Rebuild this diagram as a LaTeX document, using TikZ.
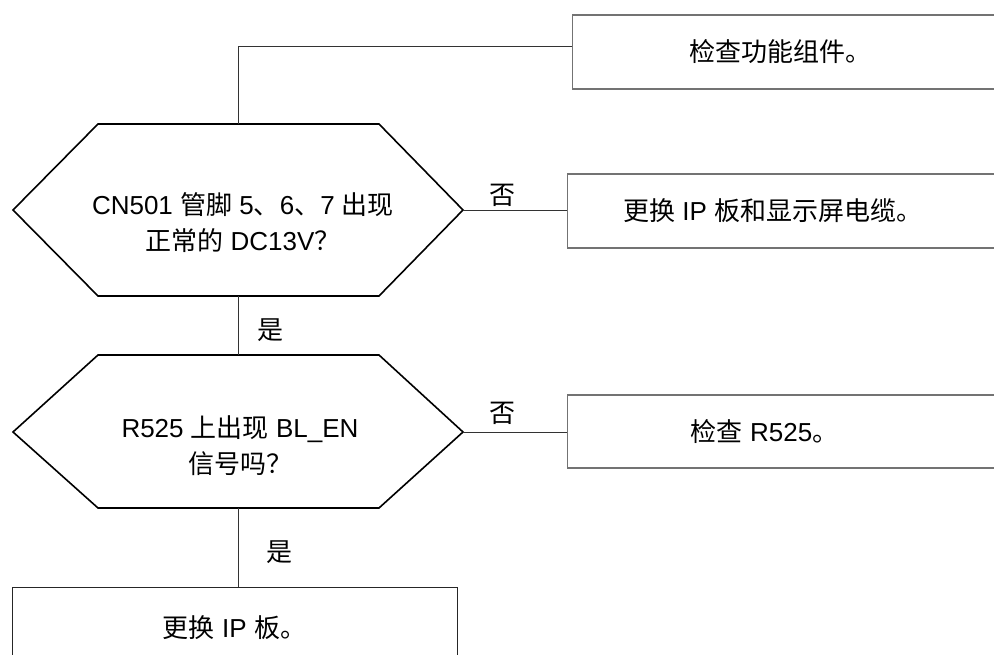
\documentclass[tikz,border=0pt]{standalone}
\usepackage{fontspec}
\setmainfont{Liberation Sans}
\newfontfamily\cjk{Noto Sans CJK SC}
\newcommand\zh[1]{{\cjk #1}}
\usepackage{tikz}

\begin{document}
\begin{tikzpicture}[x=1pt,y=-1pt,
  hexline/.style={line width=1.6pt,line join=miter},
  conn/.style={line width=0.9pt,draw=black!80},
  rbox/.style={draw=black!55,line width=1.2pt,minimum width=440pt,minimum height=74pt,anchor=west,font=\fontsize{26}{36}\selectfont},
  txt/.style={align=center,font=\fontsize{26}{36}\selectfont}]
\useasboundingbox (0,0) rectangle (994,655);
\clip (0,0) rectangle (994,655);
% decisions
\draw [hexline] (13,210) -- (98,124) -- (238,124) coordinate (h1n) -- (379,124) -- (463,210) coordinate (h1e)
  -- (379,296) -- (238,296) coordinate (h1s) -- (98,296) -- cycle;
\node [txt] (q1) at (243,223) {CN501 \zh{管脚} 5\zh{、}6\zh{、}7 \zh{出现}\\\zh{正常的} DC13V\zh{？}};
\draw [hexline] (13,432) -- (98,355) -- (238,355) coordinate (h2n) -- (379,355) -- (463,432) coordinate (h2e)
  -- (379,508) -- (238,508) coordinate (h2s) -- (98,508) -- cycle;
\node [txt] (q2) at (240,446) {R525 \zh{上出现} BL\_EN\\\zh{信号吗？}};
% actions
\node [rbox] (b1) at (572,52) {\zh{检查功能组件。}\kern24pt};
\node [rbox] (b2) at (567,211) {\zh{更换} IP \zh{板和显示屏电缆。}\kern30pt};
\node [rbox,minimum height=73pt] (b3) at (567,431.5) {\zh{检查} R525\zh{。}\kern46pt};
\node [txt,draw=black!85,line width=1pt,minimum width=445pt,minimum height=80pt,anchor=north] (b4) at (234.5,587) {\zh{更换} IP \zh{板。}};
% connectors
\draw [conn] (h1n) |- ([yshift=6pt]b1.west);
\draw [conn] (h1e) -- (h1e -| b2.west);
\draw [conn] (h1s) -- (h2n);
\draw [conn] (h2e) -- (h2e -| b3.west);
\draw [conn] (h2s) -- (h2s |- b4.north);
\node [txt] (no1) at (502,195) {\zh{否}};
\node [txt] (no2) at (502,413) {\zh{否}};
\node [txt] (yes1) at (270,330) {\zh{是}};
\node [txt] (yes2) at (279,552) {\zh{是}};
\end{tikzpicture}
\end{document}
